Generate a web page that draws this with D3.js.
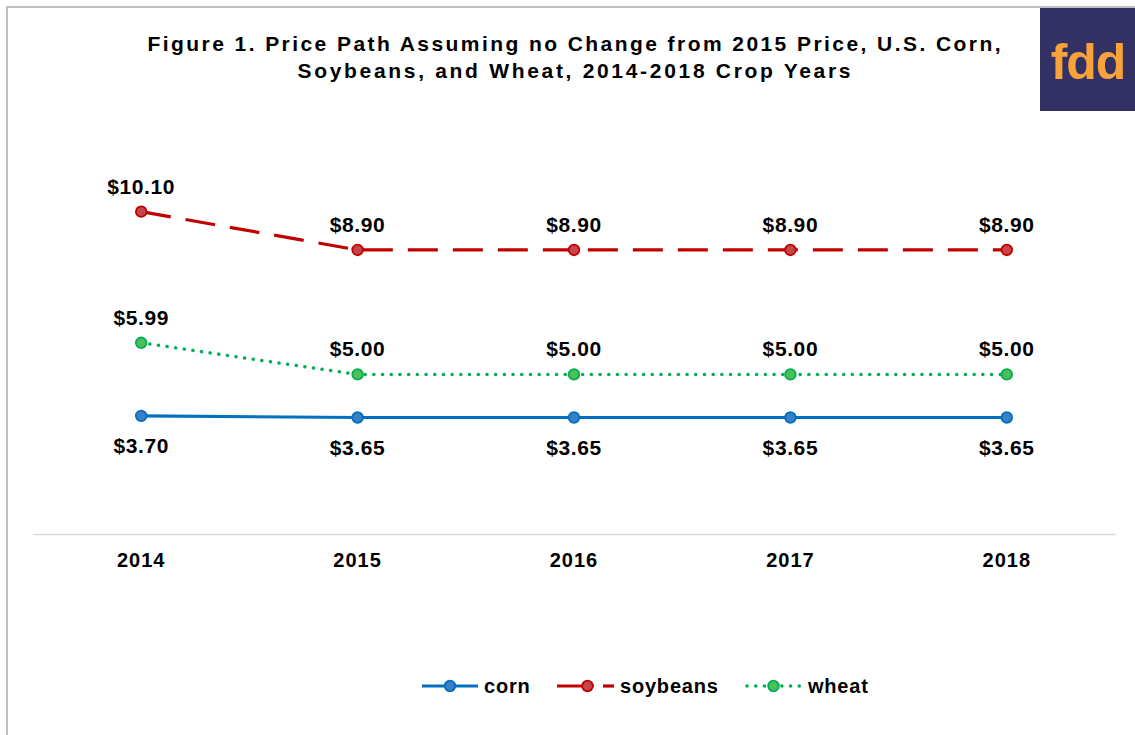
<!DOCTYPE html>
<html><head><meta charset="utf-8">
<script src="https://cdn.jsdelivr.net/npm/d3@7"></script>
<style>body{margin:0;background:#fff}svg{display:block}text{font-family:"Liberation Sans",Arial,sans-serif}</style>
</head><body><svg id="c" width="1135" height="735"></svg>
<script>
const years = ["2014","2015","2016","2017","2018"];
const corn = [3.70,3.65,3.65,3.65,3.65];
const soybeans = [10.10,8.90,8.90,8.90,8.90];
const wheat = [5.99,5.00,5.00,5.00,5.00];
const seriesNames = ["corn","soybeans","wheat"];
const titleLines = ["Figure 1. Price Path Assuming no Change from 2015 Price, U.S. Corn,","Soybeans, and Wheat, 2014-2018 Crop Years"];

const svg = d3.select("#c");
const styles = {
  corn:{stroke:"#0070c0",fill:"#3a7fc6",dash:null,labelDy:37},
  soybeans:{stroke:"#c00000",fill:"#c5464a",dash:"30,15",labelDy:-18},
  wheat:{stroke:"#00b050",fill:"#4cbf58",dash:"0.1,8.6",labelDy:-18}
};
const data = {corn, soybeans, wheat};

// frame
svg.append("path").attr("d","M7,735 V7 H1135").attr("fill","none").attr("stroke","#bfbfbf").attr("stroke-width",2);

const x = d3.scaleBand().domain(years).range([33,1115]);
const y = d3.scaleLinear().domain([0,12]).range([534,151]);

// axis
const ax = svg.append("g").attr("transform","translate(0,534)").call(d3.axisBottom(x).tickSize(0).tickPadding(19));
ax.select(".domain").attr("stroke","#d9d9d9").attr("stroke-width",1.3);
ax.selectAll("text").attr("font-size",20).attr("letter-spacing",1).attr("font-weight","bold").attr("fill","#000").attr("font-family","Liberation Sans, Arial, sans-serif");

const cx = d => x(d)+x.bandwidth()/2;
const line = d3.line().x((d,i)=>cx(years[i])).y(d=>y(d));

["wheat","soybeans","corn"].forEach(name=>{
  const s = styles[name];
  const g = svg.append("g");
  g.append("path").datum(data[name]).attr("d",line).attr("fill","none")
    .attr("stroke",s.stroke).attr("stroke-width",name==="wheat"?3.5:3.2)
    .attr("stroke-dasharray",s.dash).attr("stroke-linecap",name==="wheat"?"round":"butt");
  g.selectAll("circle").data(data[name]).join("circle")
    .attr("cx",(d,i)=>cx(years[i])).attr("cy",d=>y(d)).attr("r",5.3)
    .attr("fill",s.fill).attr("stroke",s.stroke).attr("stroke-width",1.8);
  g.selectAll("text").data(data[name]).join("text")
    .attr("x",(d,i)=>cx(years[i])).attr("y",d=>y(d)+s.labelDy)
    .attr("text-anchor","middle").attr("font-size",21).attr("letter-spacing",0.6).attr("font-weight","bold").attr("fill","#000")
    .text(d=>"$"+d.toFixed(2));
});

// title
const titleWidths = [853, 553];
svg.append("g").selectAll("text").data(titleLines).join("text")
  .attr("x",574).attr("y",(d,i)=>51+i*27).attr("text-anchor","middle")
  .attr("textLength",(d,i)=>titleWidths[i]).attr("lengthAdjust","spacing")
  .attr("font-size",21).attr("font-weight","bold").attr("fill","#000").text(d=>d);

// logo
svg.append("rect").attr("x",1040).attr("y",8).attr("width",95).attr("height",103).attr("fill","#333163");
svg.append("text").attr("x",1088).attr("y",79).attr("text-anchor","middle")
  .attr("font-size",50).attr("font-weight","bold").attr("fill","#f7a33a")
  .attr("font-family","DejaVu Sans, sans-serif").attr("letter-spacing",-1).text("fdd");

// legend
const legend = [
  {name:"corn", x0:422, x1:478, tx:484},
  {name:"soybeans", x0:557, x1:614, tx:620},
  {name:"wheat", x0:747, x1:800, tx:808}
];
const ly = 686;
legend.forEach(l=>{
  const s = styles[l.name];
  const g = svg.append("g");
  const mid = (l.x0+l.x1)/2;
  if(l.name==="soybeans"){
    g.append("line").attr("x1",l.x0).attr("x2",mid+8).attr("y1",ly).attr("y2",ly).attr("stroke",s.stroke).attr("stroke-width",3.2);
    g.append("line").attr("x1",l.x1-11).attr("x2",l.x1).attr("y1",ly).attr("y2",ly).attr("stroke",s.stroke).attr("stroke-width",3.2);
    g.append("circle").attr("cx",mid+2).attr("cy",ly).attr("r",5.3).attr("fill",s.fill).attr("stroke",s.stroke).attr("stroke-width",1.8);
  } else {
    g.append("line").attr("x1",l.x0).attr("x2",l.x1).attr("y1",ly).attr("y2",ly).attr("stroke",s.stroke)
      .attr("stroke-width",l.name==="wheat"?3.5:3.2).attr("stroke-dasharray",s.dash).attr("stroke-linecap",l.name==="wheat"?"round":"butt");
    g.append("circle").attr("cx",mid).attr("cy",ly).attr("r",5.3).attr("fill",s.fill).attr("stroke",s.stroke).attr("stroke-width",1.8);
  }
  g.append("text").attr("x",l.tx).attr("y",ly+7).attr("font-size",20).attr("letter-spacing",0.8).attr("font-weight","bold").attr("fill","#000").text(l.name);
});
</script></body></html>
